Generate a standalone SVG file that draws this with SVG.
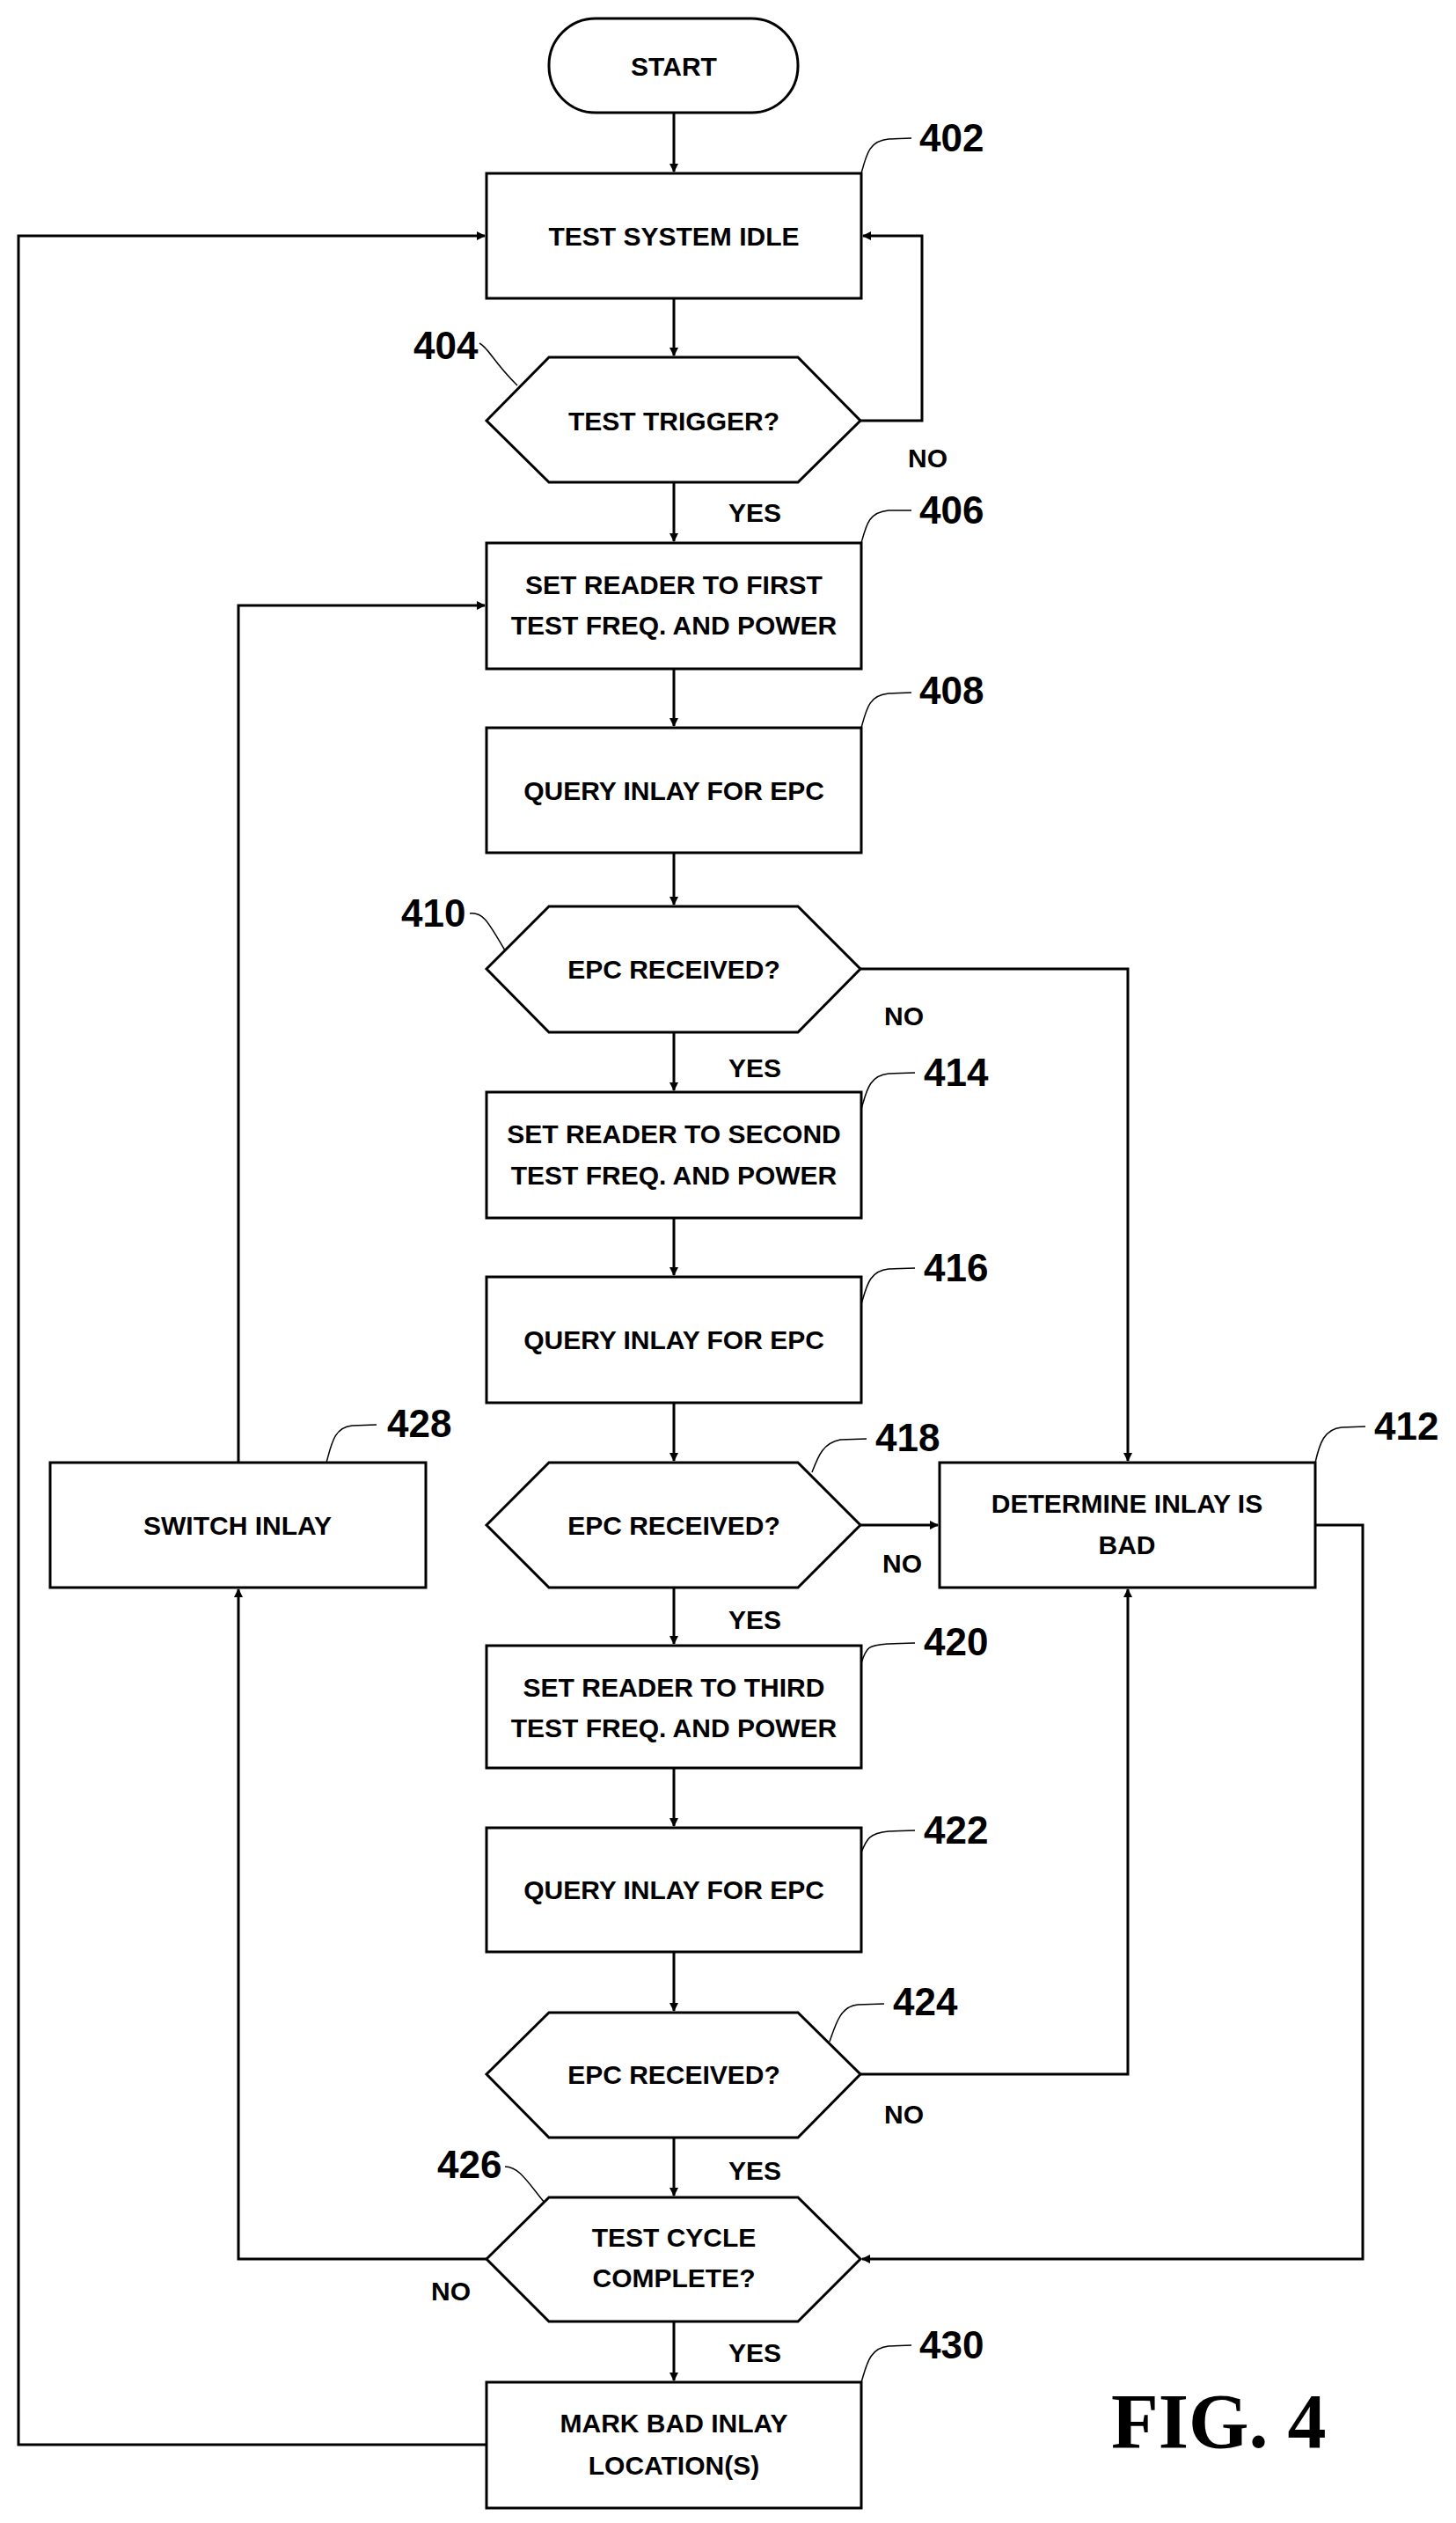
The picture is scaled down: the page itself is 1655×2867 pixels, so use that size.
<svg xmlns="http://www.w3.org/2000/svg" width="1655" height="2867" viewBox="0 0 1655 2867">
<style>
.n{fill:#fff;stroke:#000;stroke-width:3}
.t{font-family:"Liberation Sans",Arial,sans-serif;font-weight:bold;font-size:30px;text-anchor:middle;fill:#000}
.l{font-family:"Liberation Sans",Arial,sans-serif;font-weight:bold;font-size:44px;fill:#000}
.y{font-family:"Liberation Sans",Arial,sans-serif;font-weight:bold;font-size:30px;fill:#000}
.c{fill:none;stroke:#000;stroke-width:3}
.ld{fill:none;stroke:#000;stroke-width:1.5}
</style>
<defs>
<marker id="a" markerWidth="10" markerHeight="10" refX="9" refY="5" orient="auto" markerUnits="userSpaceOnUse" viewBox="0 0 10 10"><path d="M0,0 L10,5 L0,10 z" fill="#000"/></marker>
</defs>
<g id="connectors">
<path class="c" d="M766 128 V195" marker-end="url(#a)" style="--s:1"/>
<path class="c" d="M766 339 V404" marker-end="url(#a)"/>
<path class="c" d="M978 478 H1048 V268 H981" marker-end="url(#a)"/>
<path class="c" d="M766 548 V615" marker-end="url(#a)"/>
<path class="c" d="M766 760 V825" marker-end="url(#a)"/>
<path class="c" d="M766 969 V1028" marker-end="url(#a)"/>
<path class="c" d="M978 1101 H1282 V1660" marker-end="url(#a)"/>
<path class="c" d="M766 1173 V1239" marker-end="url(#a)"/>
<path class="c" d="M766 1384 V1449" marker-end="url(#a)"/>
<path class="c" d="M766 1594 V1660" marker-end="url(#a)"/>
<path class="c" d="M978 1733 H1066" marker-end="url(#a)"/>
<path class="c" d="M766 1804 V1868" marker-end="url(#a)"/>
<path class="c" d="M766 2009 V2075" marker-end="url(#a)"/>
<path class="c" d="M766 2218 V2285" marker-end="url(#a)"/>
<path class="c" d="M978 2357 H1282 V1806" marker-end="url(#a)"/>
<path class="c" d="M766 2429 V2495" marker-end="url(#a)"/>
<path class="c" d="M1495 1733 H1549 V2567 H980" marker-end="url(#a)"/>
<path class="c" d="M553 2567 H271 V1806" marker-end="url(#a)"/>
<path class="c" d="M271 1662 V688 H551" marker-end="url(#a)"/>
<path class="c" d="M766 2638 V2705" marker-end="url(#a)"/>
<path class="c" d="M553 2778 H21 V268 H551" marker-end="url(#a)"/>
<text class="y" x="1032" y="531">NO</text>
<text class="y" x="828" y="593">YES</text>
<text class="y" x="1005" y="1165">NO</text>
<text class="y" x="828" y="1224">YES</text>
<text class="y" x="1003" y="1787">NO</text>
<text class="y" x="828" y="1851">YES</text>
<text class="y" x="1005" y="2413">NO</text>
<text class="y" x="828" y="2477">YES</text>
<text class="y" x="490" y="2614">NO</text>
<text class="y" x="828" y="2684">YES</text>
</g>
<g id="start"><rect class="n" x="624" y="21" width="283" height="107" rx="53"/><text class="t" x="766" y="86">START</text></g>
<g id="n402"><rect class="n" x="553" y="197" width="426" height="142"/><text class="t" x="766" y="279">TEST SYSTEM IDLE</text>
<path class="ld" d="M979 197 C985 175,988 160,1010 158 L1036 157"/><text class="l" x="1045" y="172">402</text></g>
<g id="n404"><polygon class="n" points="553,478 624,406 907,406 978,478 907,548 624,548"/><text class="t" x="766" y="489">TEST TRIGGER?</text>
<path class="ld" d="M545 390 C555 395,560 410,588 438"/><text class="l" x="470" y="408">404</text></g>
<g id="n406"><rect class="n" x="553" y="617" width="426" height="143"/><text class="t" x="766" y="675">SET READER TO FIRST</text><text class="t" x="766" y="721">TEST FREQ. AND POWER</text>
<path class="ld" d="M979 617 C985 595,988 582,1010 580 L1036 580"/><text class="l" x="1045" y="595">406</text></g>
<g id="n408"><rect class="n" x="553" y="827" width="426" height="142"/><text class="t" x="766" y="909">QUERY INLAY FOR EPC</text>
<path class="ld" d="M979 827 C985 805,988 790,1010 788 L1036 787"/><text class="l" x="1045" y="800">408</text></g>
<g id="n410"><polygon class="n" points="553,1101 624,1030 907,1030 978,1101 907,1173 624,1173"/><text class="t" x="766" y="1112">EPC RECEIVED?</text>
<path class="ld" d="M534 1038 C550 1036,556 1050,574 1080"/><text class="l" x="456" y="1053">410</text></g>
<g id="n414"><rect class="n" x="553" y="1241" width="426" height="143"/><text class="t" x="766" y="1299">SET READER TO SECOND</text><text class="t" x="766" y="1346">TEST FREQ. AND POWER</text>
<path class="ld" d="M979 1260 C985 1240,988 1222,1010 1220 L1040 1219"/><text class="l" x="1050" y="1234">414</text></g>
<g id="n416"><rect class="n" x="553" y="1451" width="426" height="143"/><text class="t" x="766" y="1533">QUERY INLAY FOR EPC</text>
<path class="ld" d="M979 1482 C985 1462,988 1444,1010 1442 L1040 1441"/><text class="l" x="1050" y="1456">416</text></g>
<g id="n418"><polygon class="n" points="553,1733 624,1662 907,1662 978,1733 907,1804 624,1804"/><text class="t" x="766" y="1744">EPC RECEIVED?</text>
<path class="ld" d="M923 1673 C930 1655,935 1640,955 1636 L985 1635"/><text class="l" x="995" y="1649">418</text></g>
<g id="n412"><rect class="n" x="1068" y="1662" width="427" height="142"/><text class="t" x="1281" y="1719">DETERMINE INLAY IS</text><text class="t" x="1281" y="1766">BAD</text>
<path class="ld" d="M1495 1662 C1500 1640,1505 1624,1525 1622 L1552 1621"/><text class="l" x="1562" y="1636">412</text></g>
<g id="n428"><rect class="n" x="57" y="1662" width="427" height="142"/><text class="t" x="270" y="1744">SWITCH INLAY</text>
<path class="ld" d="M371 1662 C377 1640,380 1622,400 1620 L428 1619"/><text class="l" x="440" y="1633">428</text></g>
<g id="n420"><rect class="n" x="553" y="1870" width="426" height="139"/><text class="t" x="766" y="1928">SET READER TO THIRD</text><text class="t" x="766" y="1974">TEST FREQ. AND POWER</text>
<path class="ld" d="M979 1890 C985 1870,988 1870,1010 1868 L1040 1867"/><text class="l" x="1050" y="1881">420</text></g>
<g id="n422"><rect class="n" x="553" y="2077" width="426" height="141"/><text class="t" x="766" y="2158">QUERY INLAY FOR EPC</text>
<path class="ld" d="M979 2105 C985 2090,988 2083,1010 2081 L1040 2080"/><text class="l" x="1050" y="2095">422</text></g>
<g id="n424"><polygon class="n" points="553,2357 624,2287 907,2287 978,2357 907,2429 624,2429"/><text class="t" x="766" y="2368">EPC RECEIVED?</text>
<path class="ld" d="M943 2320 C950 2300,955 2280,975 2278 L1005 2277"/><text class="l" x="1015" y="2290">424</text></g>
<g id="n426"><polygon class="n" points="553,2567 624,2497 907,2497 978,2567 907,2638 624,2638"/><text class="t" x="766" y="2553">TEST CYCLE</text><text class="t" x="766" y="2599">COMPLETE?</text>
<path class="ld" d="M574 2462 C590 2462,600 2480,619 2503"/><text class="l" x="497" y="2475">426</text></g>
<g id="n430"><rect class="n" x="553" y="2707" width="426" height="143"/><text class="t" x="766" y="2764">MARK BAD INLAY</text><text class="t" x="766" y="2812">LOCATION(S)</text>
<path class="ld" d="M979 2707 C985 2688,988 2668,1010 2666 L1036 2665"/><text class="l" x="1045" y="2680">430</text></g>
<text x="1263" y="2781" style="font-family:'Liberation Serif','Times New Roman',serif;font-weight:bold;font-size:88px">FIG. 4</text>
</svg>
